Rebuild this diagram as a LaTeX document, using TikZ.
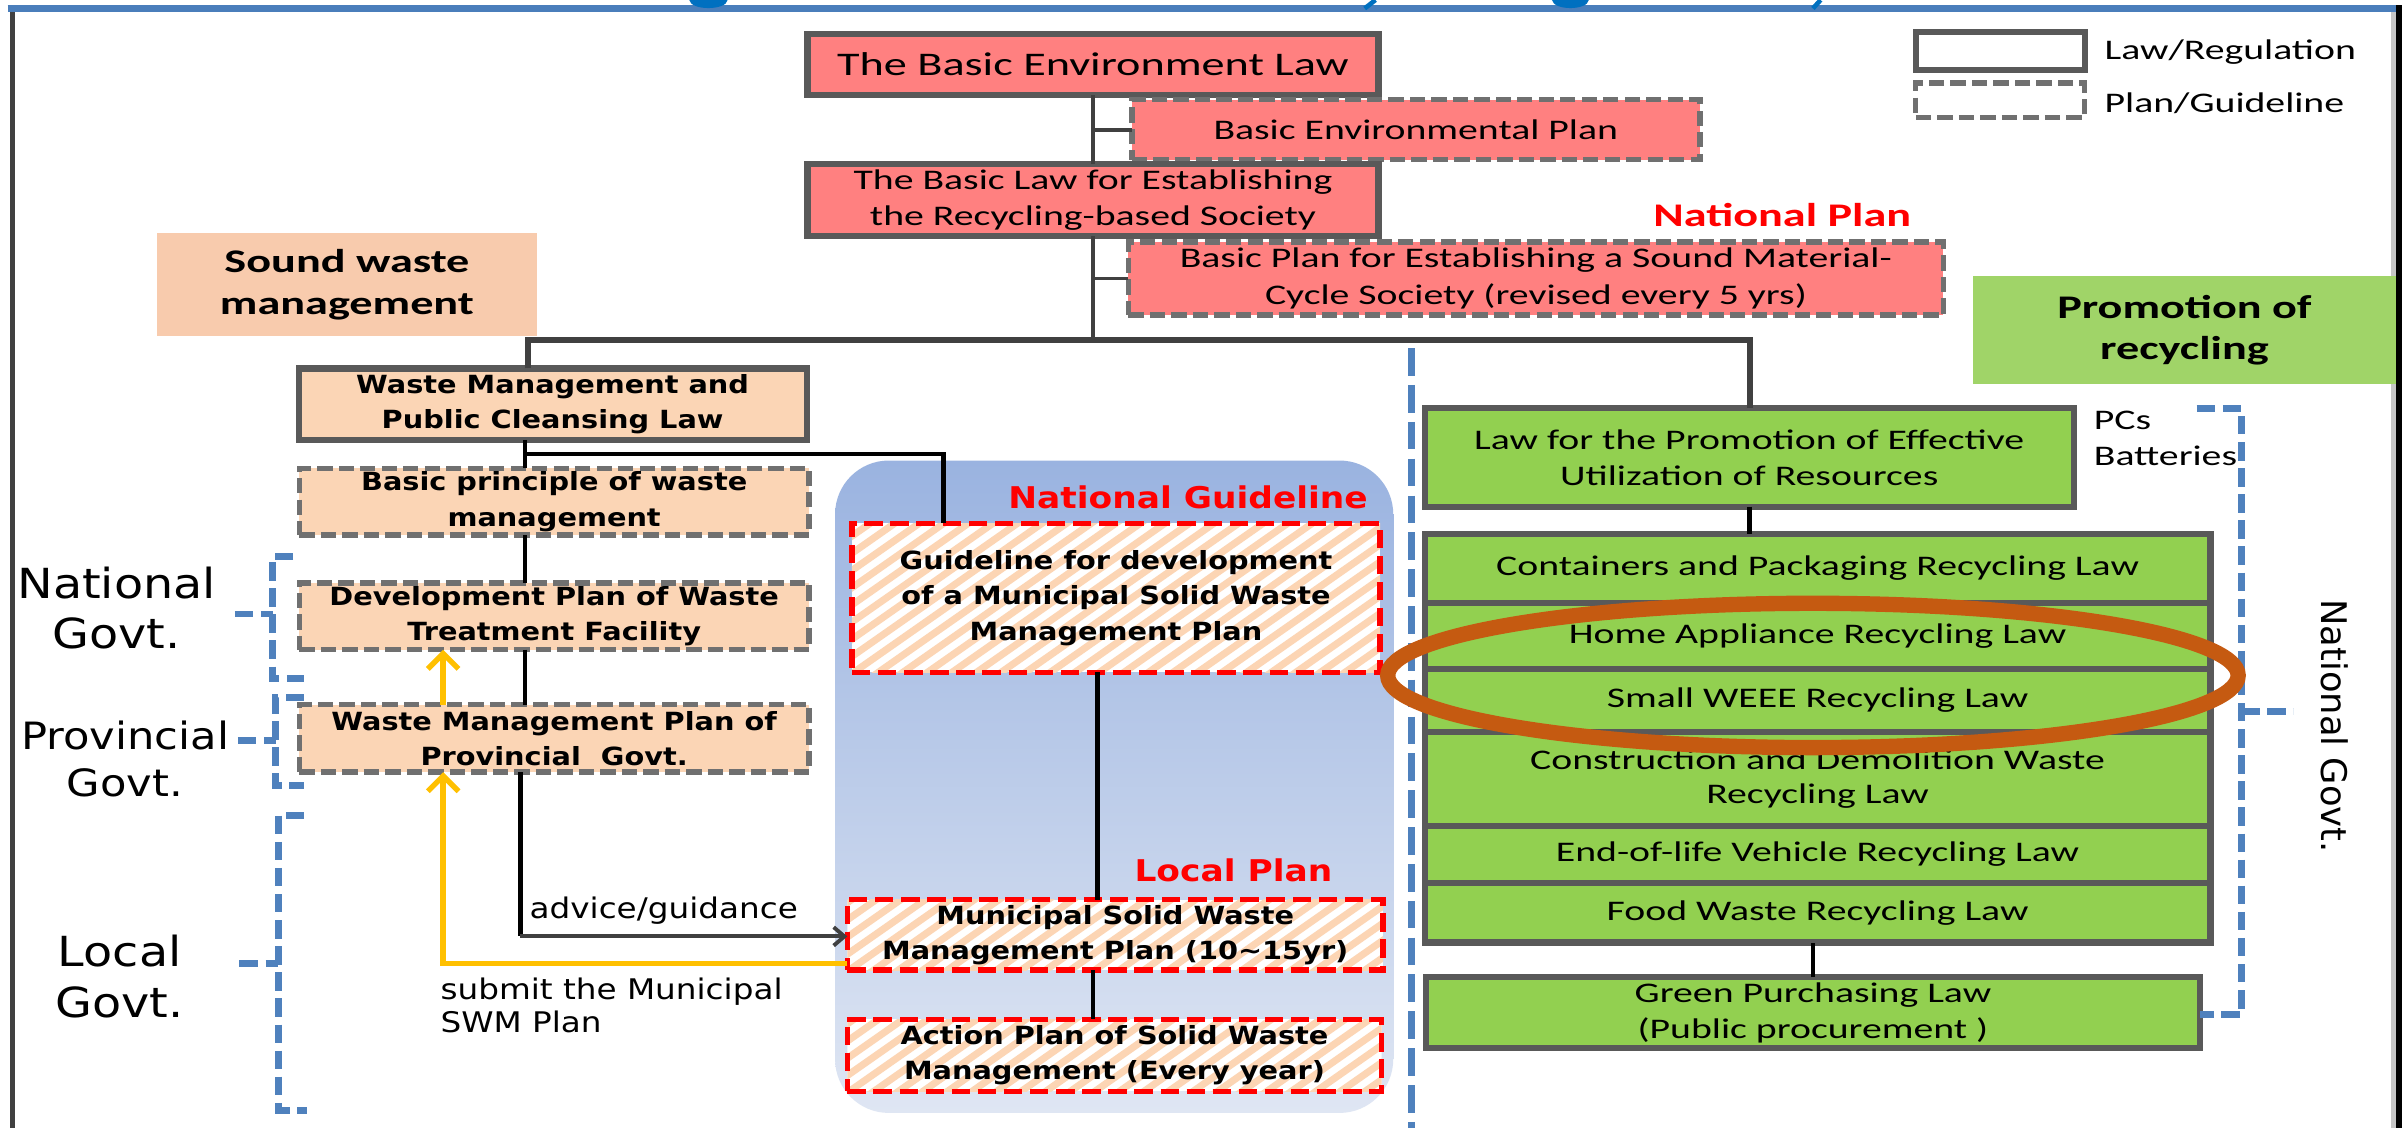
\documentclass[tikz,border=0pt]{standalone}
\usepackage{fontspec}
\newfontfamily\calf[FakeStretch=1.4]{Carlito}
\newfontfamily\verf[FakeStretch=1.15]{DejaVu Sans}
\newfontfamily\verplain{DejaVu Sans}
\usetikzlibrary{arrows.meta}
\definecolor{pinkc}{HTML}{FF8080}
\definecolor{lawgray}{HTML}{595959}
\definecolor{plangray}{HTML}{707070}
\definecolor{linkc}{HTML}{404040}
\definecolor{peach}{HTML}{FBD5B5}
\definecolor{soundc}{HTML}{F8CBAD}
\definecolor{greenc}{HTML}{92D050}
\definecolor{promoc}{HTML}{A0D468}
\definecolor{hatchc}{HTML}{FCD5B4}
\definecolor{regtop}{HTML}{9AB3E0}
\definecolor{regbot}{HTML}{DFE6F3}
\definecolor{brkblue}{HTML}{4F81BD}
\definecolor{ellc}{HTML}{C55A11}
\definecolor{yell}{HTML}{FFC000}
\definecolor{titleblue}{HTML}{0070C0}
\definecolor{topline}{HTML}{4A7EBB}
\definecolor{redc}{HTML}{FF0000}
\newcommand\fcal{\calf\fontsize{18.5}{23.5}\selectfont}
\newcommand\fcalbig{\calf\fontsize{21.5}{26.5}\selectfont}
\newcommand\fcalhead{\calf\bfseries\fontsize{21.5}{27}\selectfont}
\newcommand\fver{\verf\bfseries\fontsize{16.3}{23}\selectfont}
\newcommand\fverred{\verf\bfseries\fontsize{19.5}{23}\selectfont}
\newcommand\fvernote{\verf\fontsize{18.5}{21.5}\selectfont}
\newcommand\fverlab{\verf\fontsize{27}{33}\selectfont}
\newcommand\fverlabs{\verf\fontsize{24.5}{31}\selectfont}
\newcommand\myhatch[4]{%
  \begin{scope}
    \clip (#1,#2) rectangle (#3,#4);
    \fill[white] (#1,#2) rectangle (#3,#4);
    \foreach \k in {0,16,...,560} \draw[hatchc,line width=4.6pt] ({#1+\k-150},{#4+5}) -- ++(150,-105);
  \end{scope}}
\begin{document}
\begin{tikzpicture}[x=1pt,y=-1pt,
  box/.style={inner sep=0pt, outer sep=0pt, align=center},
  lawbox/.style={box, draw=lawgray, line width=4pt, font=\fcal},
  planbox/.style={box, draw=plangray, line width=3.5pt, dash pattern=on 10pt off 4pt, font=\fcal},
  leftlaw/.style={box, draw=lawgray, line width=4pt, fill=peach, font=\fver},
  leftplan/.style={box, draw=plangray, line width=3.5pt, dash pattern=on 10pt off 4pt, fill=peach, font=\fver},
  redbox/.style={box, draw=redc, line width=3.5pt, dash pattern=on 12pt off 5pt, font=\fver},
  greenrow/.style={lawbox, fill=greenc, minimum width=512pt},
  txt/.style={inner sep=0pt, outer sep=0pt, align=center},
  link/.style={draw=linkc, line width=2.5pt},
  blink/.style={draw=black, line width=3pt},
  ylink/.style={draw=yell, line width=3.5pt, -{Straight Barb[length=10pt,width=20pt]}},
  brk/.style={draw=brkblue, line width=4.5pt, dash pattern=on 12pt off 5pt},
]
\useasboundingbox (0,0) rectangle (1568,735);
\fill[white] (0,0) rectangle (1568,735);
% frame
\fill[gray!45] (1557.6,4) rectangle (1561,735);
\fill[black] (1561,3) rectangle (1564.4,735);
\draw[linkc, line width=3.5pt] (8,4) -- (8,735);
\draw[topline, line width=4.3pt] (5,5.5) -- (1561,5.5);
% title fragments
\fill[titleblue] (449,0) .. controls (450,7) and (473,7) .. (474,0) -- cycle;
\fill[titleblue] (1011,0) .. controls (1012,7) and (1034,7) .. (1035,0) -- cycle;
\draw[titleblue, line width=3pt] (896,0) -- (889,5.5);
\draw[titleblue, line width=3pt] (1186,0) -- (1181,5.5);

% legend
\node[lawbox, fill=white, minimum width=110pt, minimum height=25pt] (lg1) at (1303,33.1) {};
\node[planbox, fill=white, minimum width=110pt, minimum height=22.5pt] (lg2) at (1303,65.3) {};
\node[txt, anchor=west, font=\fcal] (lg1t) at (1371,33.7) {Law/Regulation};
\node[txt, anchor=west, font=\fcal] (lg2t) at (1371,67.3) {Plan/Guideline};

% national plan (pink)
\node[lawbox, fill=pinkc, minimum width=372pt, minimum height=40pt, font=\fcalbig] (bel) at (712,41.9) {The Basic Environment Law};
\node[planbox, fill=pinkc, minimum width=370pt, minimum height=39pt] (bep) at (922.3,84.5) {Basic Environmental Plan};
\node[lawbox, fill=pinkc, minimum width=372pt, minimum height=47pt] (blr) at (712,130.5) {The Basic Law for Establishing\\the Recycling-based Society};
\node[planbox, fill=pinkc, minimum width=531pt, minimum height=47.7pt] (bps) at (1000.5,181.4) {Basic Plan for Establishing a Sound Material-\\Cycle Society (revised every 5 yrs)};
\node[txt, font=\fcalhead, text=redc] (natplan) at (1161,140) {National Plan};

% headings
\node[box, fill=soundc, minimum width=248pt, minimum height=67pt, font=\fcalhead] (sound) at (226,185.5) {Sound waste\\management};
\node[box, fill=promoc, minimum width=276pt, minimum height=70pt, font=\fcalhead] (promo) at (1423,215) {Promotion of\\recycling};

% left column
\node[leftlaw, minimum width=331pt, minimum height=46.5pt] (wml) at (360,263.3) {Waste Management and\\Public Cleansing Law};
\node[leftplan, minimum width=332pt, minimum height=43.6pt] (bpw) at (361,326.8) {Basic principle of waste\\management};
\node[leftplan, minimum width=332pt, minimum height=43.5pt] (dpw) at (361,401.5) {Development Plan of Waste\\Treatment Facility};
\node[leftplan, minimum width=332pt, minimum height=44pt] (wmp) at (361,481) {Waste Management Plan of\\Provincial\ \ Govt.};

% level labels
\node[txt, font=\fverlab] (lnat) at (76,396) {National\\Govt.};
\node[txt, font=\fverlabs] (lprov) at (81.5,494.5) {Provincial\\Govt.};
\node[txt, font=\fverlab] (lloc) at (78,636) {Local\\Govt.};

% guideline region
\shade[top color=regtop, bottom color=regbot, rounded corners=35pt] (544,300) rectangle (907.6,725);
\myhatch{555}{341}{899}{438}
\myhatch{552}{586}{901}{632}
\myhatch{552}{664}{900}{711}
\node[txt, font=\fverred, text=redc, anchor=east] (natg) at (891,324) {National Guideline};
\node[redbox, minimum width=344pt, minimum height=97pt] (gdl) at (727,389.5) {Guideline for development\\of a Municipal Solid Waste\\Management Plan};
\node[txt, font=\fverred, text=redc] (locp) at (803.5,567) {Local Plan};
\node[redbox, minimum width=349pt, minimum height=46pt] (msw) at (726.5,609) {Municipal Solid Waste\\Management Plan (10\textasciitilde15yr)};
\node[redbox, minimum width=348pt, minimum height=47pt] (apw) at (726,687.5) {Action Plan of Solid Waste\\Management (Every year)};

\node[txt, anchor=west, font=\fvernote] (adv) at (345,593) {advice/guidance};
\node[txt, anchor=north west, align=left, font=\fvernote] (sub) at (287,637) {submit the Municipal\\SWM Plan};

% recycling laws (green)
\node[lawbox, fill=greenc, minimum width=423pt, minimum height=64pt] (lpe) at (1139.5,298) {Law for the Promotion of Effective\\Utilization of Resources};
\node[greenrow, minimum height=45.2pt] (cpr) at (1184,370.2) {Containers and Packaging Recycling Law};
\node[greenrow, minimum height=42.8pt] (har) at (1184,414.2) {Home Appliance Recycling Law};
\node[greenrow, minimum height=41.4pt] (swr) at (1184,456.3) {Small WEEE Recycling Law};
\node[greenrow, minimum height=61pt, font=\calf\fontsize{18.5}{22}\selectfont] (cdw) at (1184,507.5) {Construction and Demolition Waste\\Recycling Law};
\node[greenrow, minimum height=37pt] (elv) at (1184,556.5) {End-of-life Vehicle Recycling Law};
\node[greenrow, minimum height=39pt] (fwr) at (1184,594.5) {Food Waste Recycling Law};
\node[lawbox, fill=greenc, minimum width=504pt, minimum height=46.2pt] (gpl) at (1181,659.7) {Green Purchasing Law\\(Public procurement )};
\node[txt, anchor=north west, align=left, font=\fcal] (pcs) at (1364,268) {PCs\\Batteries};
\node[txt, rotate=-90, font=\verplain\fontsize{23}{28}\selectfont] (ngr) at (1521,473) {National Govt.};

% connectors top
\coordinate (jL) at (344,221.5);
\coordinate (jR) at (1140,221.5);
\draw[link] (bel.south) -- (blr.north);
\draw[link] (bel.south |- bep.west) -- (bep.west);
\draw[link] (blr.south) -- (blr.south |- jL);
\draw[link] (bel.south |- bps.west) -- (bps.west);
\draw[link, line width=3.5pt] (jL |- wml.north) -- (jL) -- (jR) -- (jR |- lpe.north);

% connectors left
\coordinate (cx) at (342,0);
\draw[blink] (wml.south -| cx) -- (bpw.north -| cx);
\draw[blink] (bpw.south -| cx) -- (dpw.north -| cx);
\draw[blink] (dpw.south -| cx) -- (wmp.north -| cx);
\coordinate (jg) at (614.6,295.8);
\draw[blink] (jg -| cx) -- (jg) -- (jg |- gdl.north);
\coordinate (gx) at (715,0);
\draw[blink] (gdl.south -| gx) -- (msw.north -| gx);
\coordinate (mx) at (712,0);
\draw[blink] (msw.south -| mx) -- (apw.north -| mx);
\coordinate (ja) at (339,610);
\draw[blink] (wmp.south -| ja) -- (ja);
\draw[link, -{Straight Barb[length=7pt,width=12pt]}] (ja) -- (ja -| msw.west);
\coordinate (jy) at (288.7,627.5);
\draw[ylink] (msw.west |- jy) -- (jy) -- (jy |- wmp.south);
\draw[ylink] (wmp.north -| jy) -- (dpw.south -| jy);

% connectors right
\draw[blink] (lpe.south) -- (lpe.south |- cpr.north);
\draw[blink] (gpl.north) -- (gpl.north |- fwr.south);

% brackets
\draw[brk] (191,362.6) -- (177.6,362.6) -- (177.6,441.9) -- (198,441.9);
\draw[brk] (153,400) -- (177.6,400);
\draw[brk] (198,454.3) -- (179.5,454.3) -- (179.5,511.8) -- (198,511.8);
\draw[brk] (155,482.3) -- (179.5,482.3);
\draw[brk] (198,531) -- (181.4,531) -- (181.4,723.2) -- (200,723.2);
\draw[brk] (156,627.5) -- (181.4,627.5);
\draw[brk] (1431,266) -- (1460,266) -- (1460,661) -- (gpl.east |- 0,661);
\draw[brk] (1460,463.6) -- (1494,463.6);
\draw[brk, line width=5pt, dash pattern=on 18pt off 6pt] (919.5,226.8) -- (919.5,735);

% highlight
\draw[ellc, line width=10pt] (1181,440) ellipse [x radius=277pt, y radius=47pt];
\end{tikzpicture}
\end{document}
